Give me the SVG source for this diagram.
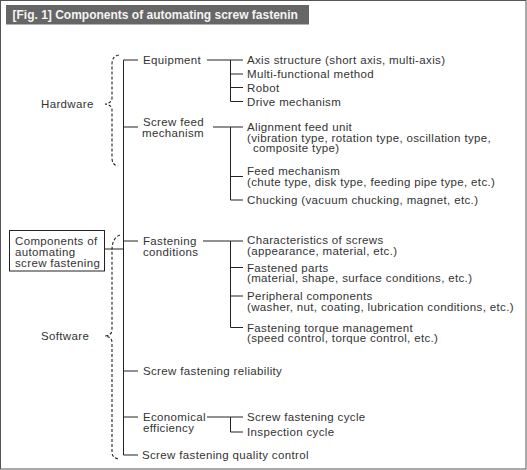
<svg xmlns="http://www.w3.org/2000/svg" width="527" height="470" viewBox="0 0 527 470">
<style>
text{font-family:"Liberation Sans",Arial,sans-serif;font-size:11.5px;fill:#333;letter-spacing:0.35px}
.title{font-size:12px;font-weight:bold;fill:#f4f4f4;letter-spacing:0}
.ln{stroke:#222;stroke-width:1;fill:none}
.br{stroke:#222;stroke-width:1.1;fill:none;stroke-dasharray:3 2}
</style>
<rect x="0.5" y="0.5" width="525.5" height="468.5" fill="#fff" stroke="#555"/>
<g id="title">
<rect x="6" y="5" width="303" height="19.5" fill="#666"/>
<text class="title" x="12.5" y="19">[Fig. 1] Components of automating screw fastenin</text>
</g>
<g id="connectors">
<path class="ln" d="M123.5,60V455M123.5,60H138M123.5,127H138M123.5,241H138M123.5,371H138M123.5,417H138M123.5,455H138M104,249H123.5"/>
<path class="ln" d="M207,60H230.5M230.5,60V101.5M230.5,60H243M230.5,74H243M230.5,87.5H243M230.5,101.5H243"/>
<path class="ln" d="M213,127H230.5M230.5,127V200M230.5,127H243M230.5,176.5H243M230.5,200H243"/>
<path class="ln" d="M203,241H230.5M230.5,241V327.5M230.5,241H243M230.5,267.5H243M230.5,296H243M230.5,327.5H243"/>
<path class="ln" d="M207,417H230.5M230.5,417V432H243M230.5,417H243"/>
<path class="br" d="M119,55Q112,56 112,64L112,98Q112,103 105,104Q112,105 112,110L112,158Q112,165 118,166"/>
<path class="br" d="M120,235Q112,238 112,250L112,330Q112,335 105,336Q112,337 112,342L112,452Q112,458 119,459"/>
</g>
<g id="hardware"><text x="41" y="108">Hardware</text></g>
<g id="software"><text x="41" y="340">Software</text></g>
<g id="root">
<rect x="9.5" y="230.5" width="95" height="40.5" fill="#fff" stroke="#222"/>
<text x="15" y="245">Components of</text>
<text x="15" y="256">automating</text>
<text x="15" y="266.5">screw fastening</text>
</g>
<g id="equipment"><text x="143" y="64">Equipment</text></g>
<g id="eq-axis"><text x="247" y="64">Axis structure (short axis, multi-axis)</text></g>
<g id="eq-multi"><text x="247" y="78">Multi-functional method</text></g>
<g id="eq-robot"><text x="247" y="91.5">Robot</text></g>
<g id="eq-drive"><text x="247" y="105.5">Drive mechanism</text></g>
<g id="screwfeed"><text x="143" y="126">Screw feed</text><text x="142" y="137">mechanism</text></g>
<g id="sf-align"><text x="247" y="131">Alignment feed unit</text><text x="247" y="141.5">(vibration type, rotation type, oscillation type,</text><text x="253" y="152">composite type)</text></g>
<g id="sf-feed"><text x="247" y="175">Feed mechanism</text><text x="247" y="186">(chute type, disk type, feeding pipe type, etc.)</text></g>
<g id="sf-chuck"><text x="247" y="204">Chucking (vacuum chucking, magnet, etc.)</text></g>
<g id="fastening"><text x="143" y="245">Fastening</text><text x="143" y="255.5">conditions</text></g>
<g id="fc-char"><text x="247" y="244">Characteristics of screws</text><text x="247" y="254.5">(appearance, material, etc.)</text></g>
<g id="fc-parts"><text x="247" y="271.5">Fastened parts</text><text x="247" y="282">(material, shape, surface conditions, etc.)</text></g>
<g id="fc-periph"><text x="247" y="300">Peripheral components</text><text x="247" y="310.5">(washer, nut, coating, lubrication conditions, etc.)</text></g>
<g id="fc-torque"><text x="247" y="331.5">Fastening torque management</text><text x="247" y="342">(speed control, torque control, etc.)</text></g>
<g id="reliability"><text x="143" y="375">Screw fastening reliability</text></g>
<g id="economical"><text x="143" y="421">Economical</text><text x="143" y="431.5">efficiency</text></g>
<g id="ec-cycle"><text x="247" y="421">Screw fastening cycle</text></g>
<g id="ec-insp"><text x="247" y="436">Inspection cycle</text></g>
<g id="quality"><text x="142" y="459">Screw fastening quality control</text></g>
</svg>
